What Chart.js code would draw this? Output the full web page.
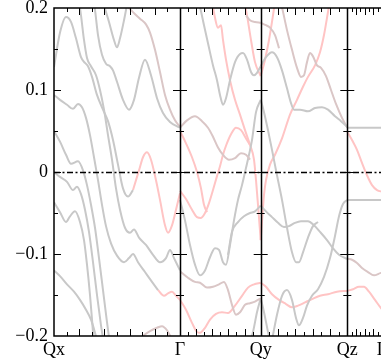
<!DOCTYPE html>
<html>
<head>
<meta charset="utf-8">
<style>
  html, body { margin: 0; padding: 0; overflow: hidden; background: #fff; }
  canvas { display: block; }
</style>
<script src="https://cdn.jsdelivr.net/npm/chart.js@4.4.1/dist/chart.umd.min.js"></script>
</head>
<body>
<canvas id="chart" width="430" height="364"></canvas>
<script>
// k-path: high symmetry points (path length, arbitrary units) and their labels
var kTicks = [0, 126, 206.7, 293.3, 328];
var kLabels = ['Qx', 'Γ', 'Qy', 'Qz', 'Γ'];
var kDivisions = [10, 10, 10, 8];
var eTicks = [-0.2, -0.1, 0, 0.1, 0.2];

// bands: [k, E (eV)]
// Qx -> Γ
var qxA = [[0,0.128],[6,0.170],[12,0.189],[17,0.183],[22,0.163],[27,0.140],[31,0.133],[34,0.129],[38,0.116],[43,0.094],[49,0.076],[54,0.062],[59,0.039],[64,0.009],[69,-0.020],[74,-0.030],[79,-0.022]];
var qxApink = [[79,-0.022],[85,0.002],[89,0.018],[93,0.024],[97,0.015],[102,-0.010],[106,-0.034],[111,-0.065],[114,-0.074],[118,-0.065],[122,-0.046],[126,-0.026]];
var qxB = [[24,0.216],[27,0.191],[30,0.161],[33,0.139],[37,0.129],[42,0.118],[46,0.100],[50,0.076],[54,0.045],[58,0.015],[62,-0.020],[66,-0.046],[71,-0.068],[76,-0.074],[80,-0.070],[85,-0.080],[92,-0.089],[99,-0.101],[106,-0.110],[112,-0.105],[116,-0.095],[120,-0.105],[126,-0.120]];
var qxC = [[39,0.216],[41,0.198],[44,0.167],[48,0.143],[52,0.132],[56,0.129],[59,0.124],[63,0.110],[69,0.088],[75,0.076],[80,0.088],[85,0.115],[91,0.137],[97,0.118],[103,0.090],[109,0.072],[116,0.061],[126,0.054]];
var qxD = [[47,0.222],[50,0.204],[55,0.183],[60,0.161],[63,0.152],[66,0.163],[70,0.185],[73,0.204],[75,0.216]];
var qxE = [[68,0.222],[73,0.204],[79,0.195],[86,0.187],[92,0.180],[96,0.170],[101,0.149],[106,0.122],[111,0.094],[116,0.076],[121,0.063],[126,0.055]];
var qxF = [[0,0.094],[6,0.088],[13,0.082],[19,0.077],[24,0.083],[28,0.079],[32,0.066],[36,0.045],[40,0.018],[44,-0.010],[48,-0.040],[52,-0.066],[57,-0.087],[63,-0.102],[70,-0.110],[75,-0.105],[79,-0.100],[84,-0.110],[91,-0.122],[98,-0.134],[104,-0.144]];
var qxFpink = [[104,-0.144],[110,-0.151],[114,-0.148],[118,-0.146],[122,-0.151],[126,-0.156]];
var qxG = [[0,0.050],[6,0.037],[12,0.021],[17,0.010],[24,0.013],[29,0.002],[33,-0.016],[37,-0.040],[41,-0.068],[45,-0.105],[49,-0.144],[53,-0.183],[56,-0.211]];
var qxH = [[0,0],[6,-0.006],[13,-0.012],[19,-0.022],[23,-0.018],[27,-0.027],[31,-0.046],[35,-0.073],[39,-0.110],[43,-0.150],[47,-0.187],[50,-0.211]];
var qxI = [[0,-0.037],[6,-0.049],[12,-0.061],[16,-0.054],[21,-0.048],[26,-0.061],[30,-0.083],[33,-0.113],[36,-0.150],[38,-0.180],[40,-0.211]];
var qxJ = [[0,-0.120],[6,-0.127],[13,-0.137],[20,-0.146],[26,-0.156],[32,-0.168],[37,-0.180],[41,-0.196],[44,-0.211]];
var qxK = [[81,-0.211],[89,-0.200],[96,-0.194],[103,-0.190],[108,-0.188],[113,-0.193],[117,-0.202],[121,-0.211]];

// Γ -> Qy
var gqA = [[126,0.054],[133,0.063],[141,0.068],[148,0.062],[154,0.054],[159,0.043],[164,0.030],[169,0.021],[175,0.015],[181,0.017],[187,0.023],[192,0.021],[196,0.015]];
var gqB = [[142,0.216],[146,0.201],[150,0.179],[154,0.157],[159,0.130],[163,0.112],[166,0.094],[169,0.082],[172,0.090],[176,0.112],[181,0.134],[186,0.144],[189,0.145],[193,0.137],[197,0.122],[200,0.118],[203,0.121],[206.7,0.129]];
var gqC = [[157,0.216],[161,0.188],[164,0.176],[167,0.179],[169,0.161],[172,0.137],[176,0.112],[181,0.088],[186,0.070],[191,0.051],[196,0.033],[200,0.015],[202,-0.010],[204,-0.040],[206.7,-0.083]];
var gqD = [[189,0.216],[193,0.191],[197,0.161],[201,0.134],[206.7,0.117]];
var gqE = [[192,0.191],[196,0.185],[201,0.183],[206.7,0.182]];
var gqF = [[126,-0.023],[132,-0.033],[138,-0.046],[143,-0.055],[147,-0.056],[151,-0.050],[155,-0.038],[159,-0.022],[163,-0.005],[166,0.007],[169,0.021],[172,0.032],[177,0.046],[182,0.054],[187,0.051],[192,0.041],[196,0.033]];
var gqG = [[126,0.050],[132,0.035],[138,0.018],[143,0],[147,-0.020],[150,-0.040],[153,-0.049]];
var gqH = [[126,-0.034],[131,-0.059],[136,-0.089],[141,-0.113],[146,-0.126],[151,-0.120],[156,-0.104],[161,-0.093],[165,-0.095],[169,-0.110],[172,-0.113],[176,-0.089],[180,-0.059],[184,-0.034],[188,-0.016],[192,0.005],[195,0.021],[198,0.039],[202,0.073],[206.7,0.088]];
var gqI = [[174,-0.101],[178,-0.073],[184,-0.061],[190,-0.054],[196,-0.050],[201,-0.048],[206.7,-0.041]];
var gqJ = [[126,-0.121],[134,-0.129],[141,-0.134],[146,-0.135],[153,-0.141],[159,-0.140],[165,-0.137],[170,-0.134],[174,-0.144],[178,-0.162],[182,-0.174],[186,-0.171],[191,-0.162],[196,-0.160],[201,-0.158],[206.7,-0.154]];
var gqK = [[195,-0.211],[199,-0.195],[203,-0.171],[206.7,-0.154]];
var gqL = [[126,-0.156],[132,-0.168],[138,-0.184],[143,-0.195],[146,-0.196],[151,-0.190],[156,-0.180],[162,-0.173],[168,-0.171],[174,-0.172],[181,-0.163],[188,-0.151],[194,-0.141],[200,-0.137],[206.7,-0.135]];

// Qy -> Qz
var qzA = [[206.7,0.129],[212,0.140],[218,0.146],[223,0.140],[228,0.124],[233,0.102],[237,0.084],[240,0.076],[246,0.076],[254,0.074],[261,0.078],[268,0.079],[274,0.076],[281,0.068],[287,0.062],[293.3,0.055]];
var qzB = [[225,0.216],[228,0.201],[233,0.173],[238,0.149],[243,0.127],[247,0.116],[250,0.118],[253,0.134],[256,0.145],[259,0.141],[263,0.130],[267,0.127],[272,0.117],[277,0.100],[282,0.083],[288,0.066],[293.3,0.054]];
var qzC = [[206.7,-0.083],[208.5,-0.052],[210,-0.028],[212,-0.010],[216,0.009],[221,0.021],[228,0.041],[236,0.070],[243,0.088],[249,0.104],[254,0.116],[261,0.130],[266,0.146],[270,0.167],[273,0.188],[276,0.210]];
var qzD = [[206.7,0.117],[211,0.137],[215,0.161],[219,0.191],[222,0.216]];
var qzE = [[206.7,0.182],[212,0.179],[216,0.176],[221,0.167],[225,0.151]];
var qzF = [[206.7,0.088],[210,0.073],[214,0.051],[218,0.027],[223,-0.004],[228,-0.034],[233,-0.068],[238,-0.098],[242,-0.110],[245,-0.110],[249,-0.098],[254,-0.080],[259,-0.066],[264,-0.061]];
var qzG = [[206.7,-0.041],[212,-0.048],[218,-0.055],[224,-0.062],[230,-0.067],[235,-0.066],[241,-0.062],[247,-0.060],[254,-0.060],[260,-0.065],[266,-0.073],[273,-0.083],[279,-0.093],[285,-0.101],[293.3,-0.106]];
var qzH = [[206.7,-0.154],[210,-0.171],[214,-0.195],[217,-0.211]];
var qzI = [[206.7,-0.135],[212,-0.140],[218,-0.149],[225,-0.156],[232,-0.161],[238,-0.165],[244,-0.163],[251,-0.159],[258,-0.155],[266,-0.151],[274,-0.149],[283,-0.146],[293.3,-0.145]];
var qzJ = [[218,-0.205],[223,-0.174],[228,-0.151],[233,-0.144],[238,-0.156],[242,-0.178],[245,-0.187],[249,-0.178],[253,-0.163],[258,-0.151],[264,-0.143],[270,-0.128],[276,-0.105],[281,-0.078],[285,-0.054],[289,-0.039],[293.3,-0.034]];

// Qz -> Γ
var zgA = [[293.3,0.054],[336,0.054]];
var zgB = [[293.3,-0.034],[336,-0.034]];
var zgC = [[293.3,0.049],[298,0.039],[303,0.027],[308,0.011],[313,-0.004],[318,-0.016],[323,-0.022],[328,-0.024],[336,-0.026]];
var zgD = [[293.3,-0.106],[298,-0.107],[303,-0.111],[308,-0.117],[314,-0.122],[320,-0.126],[327,-0.123],[336,-0.122]];
var zgE = [[293.3,-0.145],[299,-0.143],[305,-0.140],[310,-0.140],[315,-0.146],[321,-0.156],[327,-0.166],[336,-0.178]];

var GRAY = 'rgb(200,200,200)';
var PINK = 'rgb(255,196,196)';
var MIX = 'rgb(218,198,198)';

var bands = [
  [qxA, GRAY], [qxB, GRAY], [qxC, GRAY], [qxD, GRAY], [qxE, MIX], [qxF, GRAY],
  [qxG, GRAY], [qxH, GRAY], [qxI, GRAY], [qxJ, GRAY], [qxK, MIX],
  [gqA, MIX], [gqB, GRAY], [gqE, MIX], [gqH, GRAY], [gqI, GRAY], [gqJ, MIX], [gqK, GRAY],
  [qzA, GRAY], [qzB, MIX], [qzE, MIX], [qzF, GRAY], [qzG, GRAY], [qzH, GRAY], [qzJ, GRAY],
  [zgA, GRAY], [zgB, GRAY], [zgD, MIX],
  [qxApink, PINK], [qxFpink, PINK], [gqC, PINK], [gqD, PINK], [gqF, PINK], [gqG, PINK], [gqL, PINK],
  [qzC, PINK], [qzD, PINK], [qzI, PINK], [zgC, PINK], [zgE, PINK]
];

// frame, symmetry lines, inward ticks and zero line
var frame = {
  id: 'frame',
  afterDatasetsDraw: function(chart) {
    var ctx = chart.ctx, a = chart.chartArea, x = chart.scales.x, y = chart.scales.y;
    ctx.save();
    ctx.strokeStyle = '#000';
    ctx.lineWidth = 1.5;
    ctx.beginPath();
    ctx.rect(a.left, a.top, a.right - a.left, a.bottom - a.top);
    for (var i = 1; i < kTicks.length - 1; i++) {
      var px = Math.round(x.getPixelForValue(kTicks[i])) + 0.5;
      ctx.moveTo(px, a.top);
      ctx.lineTo(px, a.bottom);
    }
    ctx.stroke();

    ctx.lineWidth = 1;
    ctx.beginPath();
    var eMinor = [-0.15, -0.1, -0.05, 0, 0.05, 0.1, 0.15];
    eMinor.forEach(function(e, j) {
      var py = Math.round(y.getPixelForValue(e)) + 0.5;
      var len = (j % 2 === 1) ? 7 : 4;
      ctx.moveTo(a.left, py);
      ctx.lineTo(a.left + len, py);
      for (var i = 1; i < kTicks.length - 1; i++) {
        var px = x.getPixelForValue(kTicks[i]);
        ctx.moveTo(px - len, py);
        ctx.lineTo(px + len, py);
      }
    });
    for (var s = 0; s < kTicks.length - 1; s++) {
      var n = kDivisions[s];
      for (var j = 1; j < n; j++) {
        var k = kTicks[s] + (kTicks[s + 1] - kTicks[s]) * j / n;
        var px = Math.round(x.getPixelForValue(k)) + 0.5;
        var len = (j % 2 === 0) ? 7 : 4;
        ctx.moveTo(px, a.top);
        ctx.lineTo(px, a.top + len);
        ctx.moveTo(px, a.bottom);
        ctx.lineTo(px, a.bottom - len);
      }
    }
    ctx.stroke();

    var py0 = Math.round(y.getPixelForValue(0)) + 0.5;
    ctx.setLineDash([6, 2.5, 2, 2.5]);
    ctx.lineWidth = 1.3;
    ctx.beginPath();
    ctx.moveTo(a.left, py0);
    ctx.lineTo(a.right, py0);
    ctx.stroke();
    ctx.restore();
  }
};

Chart.defaults.font.family = '"Liberation Serif", "Times New Roman", serif';
Chart.defaults.color = '#000';

var ctx = document.getElementById('chart').getContext('2d');
var chart = new Chart(ctx, {
  type: 'line',
  data: {
    datasets: bands.map(function(b) {
      return {
        data: b[0],
        borderColor: b[1],
        borderWidth: 2,
        pointRadius: 0,
        fill: false,
        cubicInterpolationMode: 'monotone'
      };
    })
  },
  options: {
    responsive: false,
    animation: false,
    layout: { padding: { top: 8, right: 48, left: 0, bottom: 0 } },
    plugins: { legend: { display: false }, tooltip: { enabled: false } },
    scales: {
      x: {
        type: 'linear',
        min: 0,
        max: 328,
        grid: { display: false, drawTicks: false },
        border: { display: false },
        afterBuildTicks: function(scale) {
          scale.ticks = kTicks.map(function(v) { return { value: v }; });
        },
        afterFit: function(scale) {
          scale.height = 28;
          scale.paddingLeft = 0;
          scale.paddingRight = 0;
        },
        ticks: {
          autoSkip: false,
          maxRotation: 0,
          padding: 3,
          font: { size: 18 },
          callback: function(v, i) { return kLabels[i]; }
        }
      },
      y: {
        min: -0.2,
        max: 0.2,
        grid: { display: false, drawTicks: false },
        border: { display: false },
        afterBuildTicks: function(scale) {
          scale.ticks = eTicks.map(function(v) { return { value: v }; });
        },
        afterFit: function(scale) {
          scale.width = 54;
          scale.paddingTop = 0;
          scale.paddingBottom = 0;
        },
        ticks: {
          padding: 6,
          font: { size: 18 },
          callback: function(v) {
            if (Math.abs(v) < 1e-9) return '0';
            return v < 0 ? '\u2212' + Math.abs(v).toFixed(1) : v.toFixed(1);
          }
        }
      }
    }
  },
  plugins: [frame]
});
</script>
</body>
</html>
